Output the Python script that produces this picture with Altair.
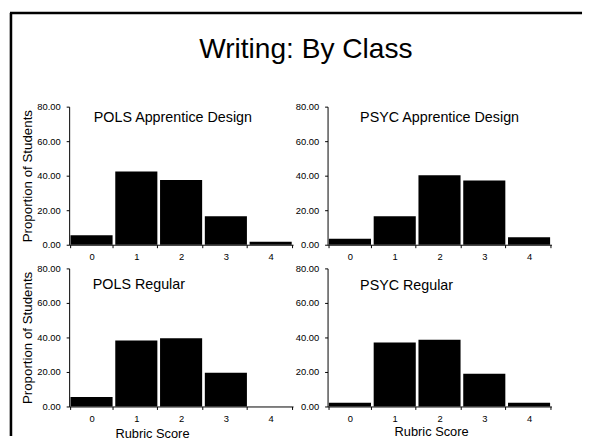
import altair as alt
import pandas as pd

FONT = "Liberation Sans, Arial, sans-serif"

scores = ["0", "1", "2", "3", "4"]
pols_apprentice = [5.5, 42.5, 37.5, 16.5, 1.8]
psyc_apprentice = [3.5, 16.5, 40.3, 37.2, 4.3]
pols_regular = [5.5, 38.3, 39.5, 19.6, 0.0]
psyc_regular = [2.1, 37.0, 38.7, 19.0, 2.1]

panel_titles = ["POLS Apprentice Design", "PSYC Apprentice Design", "POLS Regular", "PSYC Regular"]
main_title = ["Writing: By Class"]
y_title = "Proportion of Students"
x_title = "Rubric Score"
y_ticks = [0, 20, 40, 60, 80]

W, H = 227, 140


def panel(values, title, tx, ty, ytitle=False, xtitle=False, xtx=0, xty=0, extra=None):
    df = pd.DataFrame({"score": scores, "value": values})
    xaxis = dict(labelAngle=0, tickBand="extent", tickSize=3, labelPadding=4,
                 labelFontSize=9.5, domainColor="black", tickColor="black",
                 labelColor="black", labelFont=FONT)
    if xtitle:
        xaxis.update(title=x_title, titleFontSize=13, titleFont=FONT, titleFontWeight="normal",
                     titleColor="black", titleX=xtx, titleY=xty, titleBaseline="middle")
    else:
        xaxis.update(title=None)
    yaxis = dict(values=y_ticks, format=".2f", grid=False, tickSize=3, labelPadding=6,
                 labelFontSize=9.5, domainColor="black", tickColor="black",
                 labelColor="black", labelFont=FONT)
    if ytitle:
        yaxis.update(title=y_title, titleFontSize=13.5, titleFont=FONT, titleFontWeight="normal",
                     titleColor="black", titlePadding=2)
    else:
        yaxis.update(title=None)
    bars = alt.Chart(df).mark_bar(color="black").encode(
        x=alt.X("score:N", sort=scores,
                scale=alt.Scale(paddingInner=0.06, paddingOuter=0.03),
                axis=alt.Axis(**xaxis)),
        y=alt.Y("value:Q", scale=alt.Scale(domain=[0, 80]), axis=alt.Axis(**yaxis)),
    )
    txt = alt.Chart(pd.DataFrame({"t": [title]})).mark_text(
        align="left", baseline="middle", fontSize=14.5, font=FONT, color="black"
    ).encode(x=alt.value(tx), y=alt.value(ty), text="t:N")
    layers = [bars, txt] + (extra or [])
    return alt.layer(*layers).properties(width=W, height=H)


one = pd.DataFrame({"a": [0]})
frame_left = alt.Chart(one).mark_rule(color="black", strokeWidth=2.6).encode(
    x=alt.value(-59), y=alt.value(-95), y2=alt.value(334))
frame_top = alt.Chart(one).mark_rule(color="black", strokeWidth=2.6).encode(
    x=alt.value(-60), x2=alt.value(520), y=alt.value(-95))
head = alt.Chart(pd.DataFrame({"t": main_title})).mark_text(
    align="center", baseline="middle", fontSize=28.5, font=FONT, color="black"
).encode(x=alt.value(240), y=alt.value(-58), text="t:N")

tl = panel(pols_apprentice, panel_titles[0], 25, 12, ytitle=True,
           extra=[frame_left, frame_top, head])
tr = panel(psyc_apprentice, panel_titles[1], 33, 12)
bl = panel(pols_regular, panel_titles[2], 24, 17, ytitle=True, xtitle=True, xtx=84, xty=27)
br = panel(psyc_regular, panel_titles[3], 33, 18, xtitle=True, xtx=105, xty=25)

chart = alt.concat(
    tl, tr, bl, br, columns=2,
    spacing=alt.RowColnumber(row=24, column=35), bounds="flush"
).properties(padding=0, background="white").configure_view(stroke=None)

chart.save("out.html", embed_options={"renderer": "svg", "actions": False})
